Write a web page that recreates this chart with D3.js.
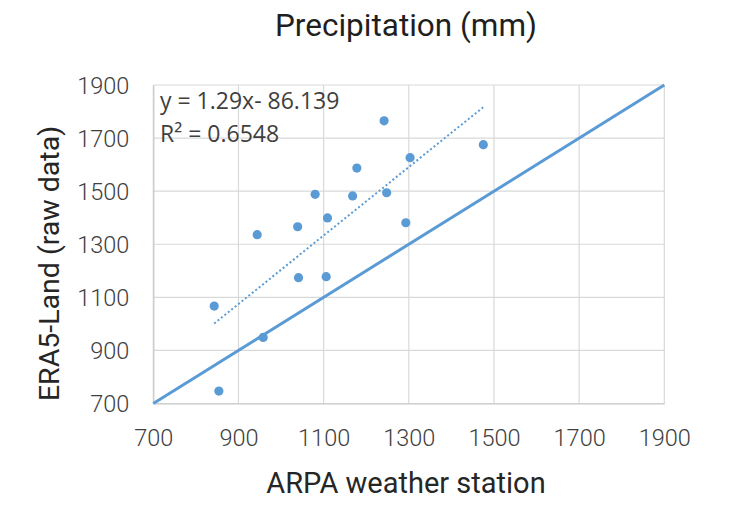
<!DOCTYPE html>
<html>
<head>
<meta charset="utf-8">
<script src="https://cdn.jsdelivr.net/npm/d3@7/dist/d3.min.js"></script>
<style>
  html, body { margin: 0; padding: 0; background: #fff; }
  svg { display: block; }
</style>
</head>
<body>
<svg id="chart" width="731" height="505"></svg>
<script>
// Annual precipitation: ARPA station totals vs ERA5-Land raw totals (mm)
const stationMm = [1242, 1303, 1178, 1080, 1168, 1248, 1109, 1039, 944, 1293, 1475, 843, 1041, 1106, 958, 854];
const era5Mm    = [1765, 1626, 1587, 1488, 1482, 1494, 1399, 1366, 1336, 1381, 1675, 1067, 1174, 1178, 949, 747];

const xTicks = [700, 900, 1100, 1300, 1500, 1700, 1900];
const yTicks = [700, 900, 1100, 1300, 1500, 1700, 1900];

// Linear trend fitted to the points
const trendSlope = 1.29;
const trendIntercept = -86.139;
const trendLabel = "y = 1.29x- 86.139";
const r2Label = "R² = 0.6548";

const chartTitle = "Precipitation (mm)";
const xTitle = "ARPA weather station";
const yTitle = "ERA5-Land (raw data)";

const blue = "#5b9bd5";
const textCol = "#404040";

const svg = d3.select("#chart");
const x = d3.scaleLinear().domain([700, 1900]).range([153.3, 664.3]);
const y = d3.scaleLinear().domain([700, 1900]).range([403.5, 85]);

// Gridlines
const grid = svg.append("g");
grid.selectAll("line.v").data(xTicks).join("line")
  .attr("x1", d => x(d)).attr("x2", d => x(d))
  .attr("y1", y(1900)).attr("y2", y(700))
  .attr("stroke", "#d9d9d9").attr("stroke-width", 1.2);
grid.selectAll("line.h").data(yTicks).join("line")
  .attr("y1", d => y(d)).attr("y2", d => y(d))
  .attr("x1", x(700)).attr("x2", x(1900))
  .attr("stroke", "#d9d9d9").attr("stroke-width", 1.2);

// Axes (labels only, lines come from the grid)
const xAxis = d3.axisBottom(x).tickValues(xTicks).tickSize(0).tickPadding(0).tickFormat(d3.format("d"));
const yAxis = d3.axisLeft(y).tickValues(yTicks).tickSize(0).tickPadding(0).tickFormat(d3.format("d"));

const gx = svg.append("g").attr("transform", `translate(0,${y(700)})`).call(xAxis);
gx.select(".domain").attr("stroke", "#c8c8c8").attr("stroke-width", 1.2);
gx.selectAll("text")
  .attr("y", 42).attr("dy", null)
  .attr("font-family", "Roboto").attr("font-weight", 300)
  .attr("font-size", 23.5).attr("fill", textCol);

const gy = svg.append("g").attr("transform", `translate(${x(700)},0)`).call(yAxis);
gy.select(".domain").attr("stroke", "#c8c8c8").attr("stroke-width", 1.2);
gy.selectAll("text")
  .attr("x", -24).attr("dy", "0.35em")
  .attr("font-family", "Roboto").attr("font-weight", 300)
  .attr("font-size", 23.5).attr("fill", textCol);

// 1:1 reference line
svg.append("line")
  .attr("x1", x(700)).attr("y1", y(700))
  .attr("x2", x(1900)).attr("y2", y(1900))
  .attr("stroke", blue).attr("stroke-width", 3);

// Dotted linear trendline across the station range
const [xmin, xmax] = d3.extent(stationMm);
svg.append("line")
  .attr("x1", x(xmin)).attr("y1", y(trendSlope * xmin + trendIntercept))
  .attr("x2", x(xmax)).attr("y2", y(trendSlope * xmax + trendIntercept))
  .attr("stroke", blue).attr("stroke-width", 2)
  .attr("stroke-dasharray", "2 2.4");

// Points
svg.append("g").selectAll("circle")
  .data(stationMm.map((s, i) => [s, era5Mm[i]]))
  .join("circle")
  .attr("cx", d => x(d[0])).attr("cy", d => y(d[1]))
  .attr("r", 4.6).attr("fill", blue);

// Trend equation
svg.append("text").attr("x", 160).attr("y", 109)
  .attr("font-family", "Open Sans").attr("font-size", 23)
  .attr("fill", textCol).text(trendLabel);
svg.append("text").attr("x", 160).attr("y", 141.7)
  .attr("font-family", "Open Sans").attr("font-size", 23)
  .attr("fill", textCol).text(r2Label);

// Titles
svg.append("text").attr("x", 406).attr("y", 36)
  .attr("text-anchor", "middle")
  .attr("font-family", "Roboto").attr("font-size", 31.5)
  .attr("fill", "#1f1f1f").text(chartTitle);
svg.append("text").attr("x", 406).attr("y", 493)
  .attr("text-anchor", "middle")
  .attr("font-family", "Roboto").attr("font-size", 29)
  .attr("fill", "#262626").text(xTitle);
svg.append("text")
  .attr("transform", "translate(59,263.5) rotate(-90)")
  .attr("text-anchor", "middle")
  .attr("font-family", "Roboto").attr("font-size", 28.5)
  .attr("fill", "#262626").text(yTitle);
</script>
</body>
</html>
